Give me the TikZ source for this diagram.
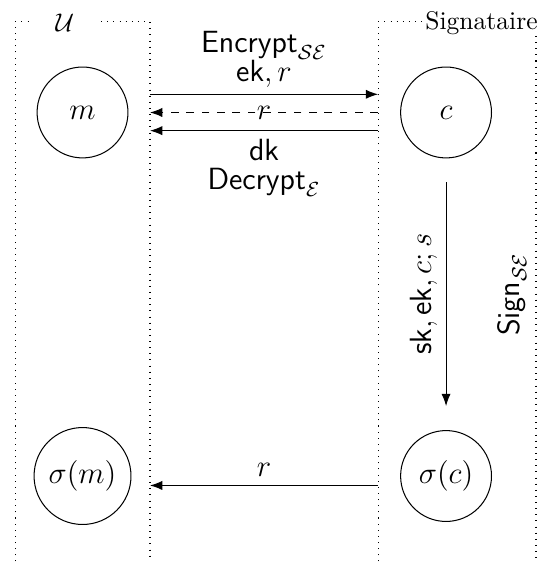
\documentclass[tikz,border=0pt]{standalone}
\usepackage{amsmath}
\usepackage{amsfonts}
\usepackage{tikz}
\usetikzlibrary{arrows.meta,automata,calc}

\begin{document}
\begin{tikzpicture}[->,>=Latex,node distance=5cm,
    every state/.style={draw,minimum size=1.25cm,font=\large},
    msg/.style={font=\large},
    lane/.style={draw,dotted,-},
    lanename/.style={fill=white,inner sep=0pt}]
  \useasboundingbox (-1.135,-6.224) rectangle (6.43,1.547);

  % lanes
  \coordinate (utl) at (-0.928,1.245);
  \coordinate (utr) at (0.928,1.245);
  \coordinate (stl) at (4.065,1.245);
  \coordinate (str) at (6.237,1.245);
  \draw[lane] (utl) ++(0,-7.42) -- (utl) -- (utr) -- ++(0,-7.42);
  \draw[lane] (stl) ++(0,-7.42) -- (stl) -- (str) -- ++(0,-7.42);
  \node[lanename,minimum width=0.894cm] (uname) at (-0.241,1.231) {$\mathcal{U}$};
  \node[lanename] (sname) at (5.488,1.231) {Signataire};

  \node[state] (m) at (0,0) {$m$};
  \node[state] (c) [right of=m] {$c$};
  \node[state] (sm) [below of=m] {$\sigma(m)$};
  \node[state] (sc) [right of=sm] {$\sigma(c)$};

  % m <-> c
  \draw ($(m -| utr)+(0,0.25)$) -- node[msg,above=-1pt,align=center]
    {$\mathsf{Encrypt}_{\mathcal{SE}}$\\[-2.5pt]$\mathsf{ek}, r$} ($(c -| stl)+(0,0.25)$);
  \draw[dashed] (c -| stl) -- node[msg,anchor=center]{$r$} (m -| utr);
  \draw ($(c -| stl)+(0,-0.25)$) -- node[msg,below,align=center]
    {$\mathsf{dk}$\\[-3pt]$\mathsf{Decrypt}_{\mathcal{E}}$} ($(m -| utr)+(0,-0.25)$);

  % c -> sigma(c)
  \draw ([yshift=-3.3mm]c.south) -- node[msg,rotate=90,above]{$\mathsf{sk}, \mathsf{ek}, c; s$}
    node[msg,xshift=9.1mm,rotate=90]{$\mathsf{Sign}_{\mathcal{SE}}$} ([yshift=3.3mm]sc.north);

  % sigma(c) -> sigma(m)
  \draw ($(sc -| stl)+(0,-0.13)$) -- node[msg,above]{$r$} ($(sm -| utr)+(0,-0.13)$);
\end{tikzpicture}
\end{document}
